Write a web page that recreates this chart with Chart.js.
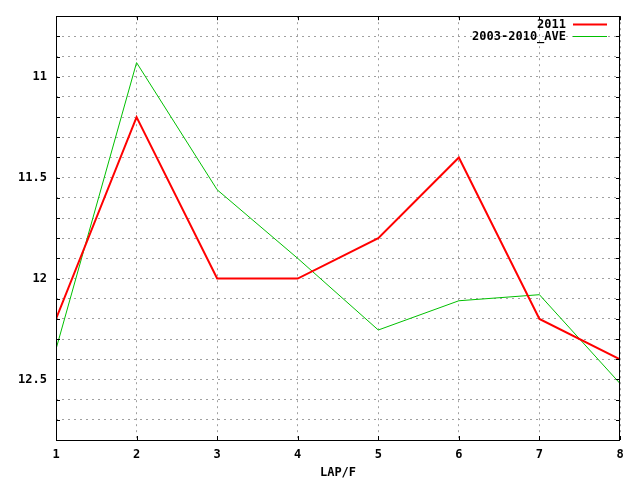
<!DOCTYPE html>
<html>
<head>
<meta charset="utf-8">
<style>
  html, body { margin: 0; padding: 0; background: #fff; }
  #wrap { width: 640px; height: 480px; }
</style>
<script src="https://cdn.jsdelivr.net/npm/chart.js@4/dist/chart.umd.min.js"></script>
</head>
<body>
<div id="wrap"><canvas id="lapChart" width="640" height="480"></canvas></div>
<script>
var laps = [1, 2, 3, 4, 5, 6, 7, 8]
var times2011 = [12.2, 11.2, 12.0, 12.0, 11.8, 11.4, 12.2, 12.4]
var timesAve = [12.35, 10.93, 11.56, 11.9, 12.255, 12.11, 12.08, 12.52]
var yLabels = [11, 11.5, 12, 12.5]
var seriesNames = ['2011', '2003-2010_AVE']

var FONT = 'bold 12px "DejaVu Sans Mono", "Liberation Mono", monospace'

function toPoints (vals) {
  return laps.map(function (x, i) { return { x: x, y: vals[i] } })
}

// border, inside ticks and gnuplot-style legend
var gnuFrame = {
  id: 'gnuFrame',
  afterDraw: function (chart) {
    var c = chart.ctx
    var a = chart.chartArea
    var xs = chart.scales.x, ys = chart.scales.y
    c.save()
    c.strokeStyle = '#000'
    c.lineWidth = 1
    c.beginPath()
    ys.ticks.forEach(function (t) {
      var py = Math.round(ys.getPixelForValue(t.value)) + 0.5
      c.moveTo(a.left, py); c.lineTo(a.left + 4, py)
      c.moveTo(a.right, py); c.lineTo(a.right - 4, py)
    })
    xs.ticks.forEach(function (t) {
      var px = Math.round(xs.getPixelForValue(t.value)) + 0.5
      c.moveTo(px, a.bottom); c.lineTo(px, a.bottom - 4)
      c.moveTo(px, a.top); c.lineTo(px, a.top + 4)
    })
    c.stroke()
    c.strokeRect(Math.round(a.left) + 0.5, Math.round(a.top) + 0.5,
      Math.round(a.right - a.left) - 1, Math.round(a.bottom - a.top))

    c.font = FONT
    c.textAlign = 'right'
    c.textBaseline = 'middle'
    chart.data.datasets.forEach(function (ds, i) {
      var ly = 24 + i * 12
      c.fillStyle = '#000'
      c.fillText(ds.label, 566, ly + 1)
      c.strokeStyle = ds.borderColor
      c.lineWidth = ds.borderWidth
      c.beginPath()
      c.moveTo(573, ly + 0.5)
      c.lineTo(607, ly + 0.5)
      c.stroke()
    })
    c.restore()
  }
}

var bg = {
  id: 'bg',
  beforeDraw: function (chart) {
    var c = chart.ctx
    c.save()
    c.fillStyle = '#fff'
    c.fillRect(0, 0, chart.width, chart.height)
    c.restore()
  }
}

new Chart(document.getElementById('lapChart'), {
  type: 'line',
  data: {
    datasets: [
      { label: seriesNames[0], data: toPoints(times2011), borderColor: '#ff0000', borderWidth: 2, pointRadius: 0, tension: 0, fill: false },
      { label: seriesNames[1], data: toPoints(timesAve), borderColor: '#00c000', borderWidth: 1, pointRadius: 0, tension: 0, fill: false }
    ]
  },
  options: {
    responsive: false,
    devicePixelRatio: 1,
    animation: false,
    layout: { padding: { top: 13, right: 20, left: 0, bottom: 0 } },
    plugins: {
      legend: { display: false },
      tooltip: { enabled: false }
    },
    scales: {
      x: {
        type: 'linear',
        min: 1,
        max: 8,
        ticks: { stepSize: 1, color: '#000', font: { family: '"DejaVu Sans Mono", monospace', size: 12, weight: 'bold' }, padding: 8 },
        grid: { color: '#a0a0a0', drawTicks: false },
        border: { display: false, dash: [2, 4] },
        title: { display: true, text: 'LAP/F', color: '#000', font: { family: '"DejaVu Sans Mono", monospace', size: 12, weight: 'bold' }, padding: { top: 3, bottom: 0 } },
        afterFit: function (s) { s.height = 40 }
      },
      y: {
        type: 'linear',
        reverse: true,
        min: 10.7,
        max: 12.8,
        ticks: {
          stepSize: 0.1,
          color: '#000',
          font: { family: '"DejaVu Sans Mono", monospace', size: 12, weight: 'bold' },
          padding: 9,
          autoSkip: false,
          callback: function (v) {
            var r = Math.round(v * 10) / 10
            return yLabels.indexOf(r) !== -1 ? String(r) : ''
          }
        },
        grid: { color: '#a0a0a0', drawTicks: false },
        border: { display: false, dash: [2, 4] },
        afterFit: function (s) { s.width = 56 }
      }
    }
  },
  plugins: [bg, gnuFrame]
})
</script>
</body>
</html>
